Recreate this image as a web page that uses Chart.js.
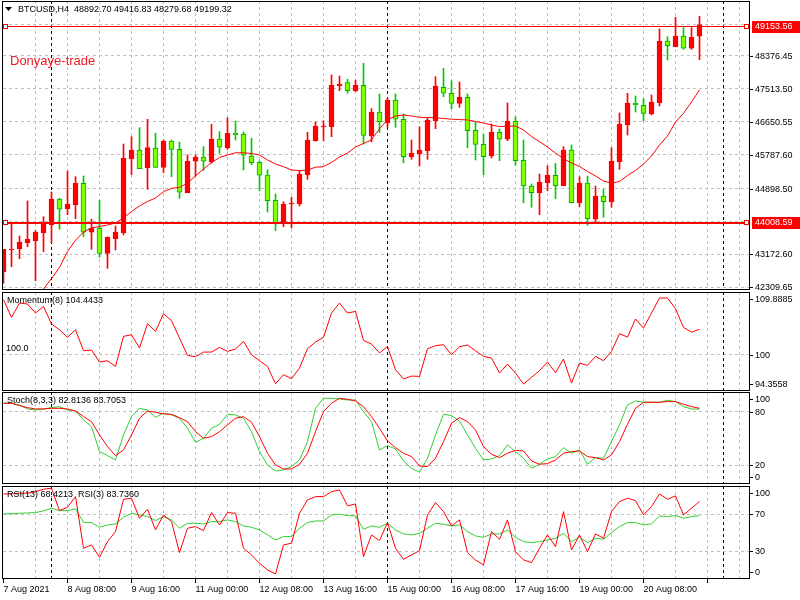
<!DOCTYPE html>
<html>
<head>
<meta charset="utf-8">
<title>BTCUSD,H4</title>
<script src="https://cdn.jsdelivr.net/npm/chart.js@4"></script>
<style>
  body { margin: 0; background: #fff; width: 800px; height: 600px; overflow: hidden; position: relative; }
  canvas { position: absolute; left: 0; }
</style>
</head>
<body>
<canvas id="rsi" width="800" height="115" style="top:485px;z-index:1"></canvas>
<canvas id="stoch" width="800" height="92" style="top:392px;z-index:2"></canvas>
<canvas id="mom" width="800" height="99" style="top:292px;z-index:3"></canvas>
<canvas id="main" width="800" height="291" style="top:0px;z-index:4"></canvas>

<script>
// BTCUSD H4 candles, 7 Aug 2021 00:00 onward
const open = [42719,43288,43322,43479,43532,43742,43951,44625,44371,44476,
  45037,43752,43857,43201,43584,43742,45682,45910,45446,45962,
  45456,46146,45928,44790,45614,45726,45595,46198,45962,46348,
  46322,45753,45588,45254,44591,44004,44494,44494,45254,46154,
  46513,46521,47596,47675,47465,47606,46277,46906,46626,47221,
  46715,45734,45805,45892,46678,47554,47397,47134,47292,46427,
  46059,45753,46374,46191,46663,45640,44966,44790,45053,45247,
  44974,45910,44528,45045,44093,44704,44554,45603,46573,47134,
  47082,46854,47150,48768,48619,48899,48577,48892.70];
const high = [43306,43970,43655,44573,43794,44161,44809,44644,45359,45210,
  45228,44093,44591,43629,43917,46067,46259,46495,46715,46348,
  46172,46172,46120,45779,45779,45997,46584,46390,46757,46670,
  46382,46217,45629,45393,44756,44554,44670,45367,46374,46644,
  46678,47877,47850,47764,47745,48183,46993,47378,47266,47378,
  46854,46172,46521,46749,47832,48052,47727,47693,47378,46652,
  46330,46592,46461,47142,46783,46172,45019,45281,45498,45561,
  45997,46041,45210,45228,44966,44880,45970,46880,47397,47326,
  47255,47352,49083,48881,49389,49117,49117,49416.83];
const low = [42415,42850,43060,43375,42483,43243,43479,43831,44214,44109,
  43637,43306,43097,42808,43288,43681,45262,45420,44880,45456,
  45315,45210,44644,44790,45228,45367,45561,45823,45928,46172,
  45386,45525,44843,44284,43794,43899,43865,44442,45142,46138,
  46154,46259,47465,47397,47439,46067,46120,46364,46505,46505,
  45577,45666,45490,45666,46468,47308,46993,47030,45970,45648,
  45262,45700,45629,46154,45509,44528,44408,44214,44843,44633,
  44974,44528,44423,43936,44022,44145,44408,45404,46303,46906,
  46678,46828,47064,48270,48619,48550,48550,48279.68];
const close = [43306,43314,43498,43569,43760,43970,44625,44355,44494,45037,
  43752,43857,43201,43629,43760,45692,45910,45420,45970,45456,
  46146,45928,44801,45614,45726,45614,46198,45981,46348,46311,
  45771,45577,45247,44581,44004,44494,44520,45281,46172,46539,
  46539,47614,47641,47465,47614,46295,46906,46644,47221,46715,
  45734,45823,45910,46697,47588,47397,47134,47292,46416,46059,
  45734,46374,46191,46670,45629,44966,44790,45063,45247,44974,
  45910,44528,45045,44109,44704,44554,45622,46592,47142,47098,
  46872,47169,48768,48645,48899,48577,48865,49199.32];

// moving average on price
const maValues = [null,null,null,null,41980,42265,42538,42829,43249,43542,
  43760,43865,43904,43944,43996,44127,44297,44442,44560,44651,
  44817,44906,44927,45045,45228,45412,45582,45713,45779,45837,
  45837,45818,45779,45648,45543,45472,45386,45367,45380,45459,
  45472,45582,45726,45831,45989,46081,46172,46470,46697,46802,
  46828,46802,46767,46762,46757,46736,46718,46708,46697,46657,
  46618,46566,46524,46532,46539,46434,46264,46128,45989,45831,
  45682,45569,45477,45346,45228,45097,45037,45084,45241,45373,
  45543,45753,46041,46277,46644,46872,47169,47483];

// Momentum(8)
const momValues = [109.65,106.55,109.06,108.89,107.31,108.48,105.38,104.38,103.04,104.38,
  100.70,100.82,98.71,98.94,97.95,103.21,103.51,101.17,105.44,104.09,
  107.19,105.96,102.92,99.88,99.65,100.46,100.46,101.28,100.58,100.99,
  102.34,100.00,98.94,97.95,94.91,96.49,95.78,97.66,101.05,102.22,
  103.04,107.31,109.06,107.31,107.60,102.51,101.87,100.29,101.46,97.36,
  95.73,96.25,96.19,101.05,101.58,101.75,100.00,101.40,101.69,100.70,
  99.70,99.41,96.78,98.36,96.78,94.85,96.02,97.19,98.71,96.84,
  99.24,95.02,98.53,98.12,99.70,98.94,100.58,103.68,103.10,106.26,
  104.68,107.31,109.94,109.94,108.07,104.79,103.97,104.44];

// Stoch(8,3,3) main / signal
const stochMain = [89.37,89.37,87.50,83.02,81.90,83.02,84.51,85.63,81.90,80.78,
  70.71,63.25,35.26,30.78,25.93,53.92,74.44,83.77,81.90,73.69,
  78.17,76.31,72.57,61.38,45.71,50.19,61.38,65.86,77.05,76.31,
  72.57,57.65,35.26,20.34,13.62,14.74,18.47,25.93,46.46,83.77,
  94.96,94.96,94.22,93.10,93.10,80.04,68.84,37.13,41.98,38.25,
  24.81,16.60,12.13,27.80,53.92,77.05,75.56,69.59,53.92,39.00,
  25.93,27.05,30.78,42.72,35.26,27.80,16.60,21.08,27.05,29.66,
  39.74,33.40,37.13,21.08,28.54,27.80,46.46,65.11,87.50,91.98,
  90.49,90.49,90.49,92.72,91.23,85.63,83.02,82.81];
const stochSignal = [89.37,89.37,86.75,84.51,83.02,83.02,83.77,83.77,83.02,80.78,
  74.44,68.84,53.92,40.86,30.78,37.13,53.92,72.57,80.78,79.29,
  77.43,77.05,73.32,68.84,57.65,50.19,52.05,57.65,65.11,72.57,
  74.44,68.10,52.05,33.40,20.34,15.86,15.86,21.08,33.40,57.65,
  80.04,89.37,94.96,93.84,91.98,85.63,74.44,61.38,47.20,39.74,
  33.40,29.66,19.22,18.47,27.80,46.46,66.98,73.32,68.84,59.51,
  40.86,32.28,28.54,33.40,36.75,36.01,24.81,21.08,21.83,25.93,
  33.40,35.26,36.01,29.66,28.54,25.93,31.53,46.46,65.86,83.77,
  90.49,90.49,90.49,91.23,91.23,88.25,85.63,83.71];

// RSI(13) and RSI(3)
const rsi13 = [70.32,70.68,71.05,71.41,71.77,73.57,76.45,73.93,73.93,75.73,
  61.32,60.95,55.91,58.43,59.51,66.72,71.05,69.24,67.44,63.12,
  67.44,63.84,54.83,60.23,60.23,59.51,62.04,62.04,63.84,62.04,
  57.35,55.91,53.03,47.62,42.22,45.82,45.82,54.83,60.95,62.76,
  62.76,69.24,69.96,68.52,68.16,53.75,57.35,55.91,60.23,53.03,
  48.70,47.62,49.42,54.83,60.23,59.15,57.35,58.43,51.23,46.54,
  45.10,48.70,48.70,53.03,45.10,40.41,39.33,40.41,42.22,44.02,
  49.42,40.41,45.10,39.33,44.02,42.94,50.14,56.63,60.95,60.95,
  58.43,59.51,68.16,67.44,68.52,65.64,67.44,68.42];
const rsi3 = [91.95,91.95,92.67,92.67,94.47,96.99,98.07,73.93,77.53,89.06,
  33.21,36.81,23.48,40.41,51.23,86.18,87.26,65.64,75.37,53.03,
  69.24,62.04,28.52,54.83,56.63,52.31,71.77,58.43,71.77,71.05,
  33.21,26.00,16.99,9.78,5.46,36.81,38.61,71.05,85.46,89.06,
  89.06,94.47,96.27,78.97,81.14,24.20,47.62,41.50,60.95,33.21,
  21.32,26.00,30.68,69.24,82.58,72.85,57.35,63.84,28.52,20.60,
  15.19,51.23,42.94,63.84,29.60,20.60,17.71,33.21,47.62,35.01,
  72.85,31.41,47.62,29.60,48.70,44.02,72.85,83.66,87.26,84.74,
  69.24,78.25,91.95,86.18,89.78,69.24,76.45,83.74];

// time axis: one label every 8 bars, week separators at bar index
const xLabels = ["7 Aug 2021","8 Aug 08:00","9 Aug 16:00","11 Aug 00:00","12 Aug 08:00",
  "13 Aug 16:00","15 Aug 00:00","16 Aug 08:00","17 Aug 16:00","19 Aug 00:00","20 Aug 08:00"];
const weekStarts = [6, 48, 90];

// price axis
const priceTicks = [42309.65,43172.60,44035.55,44898.50,45787.60,46650.55,47513.50,48376.45,49213.25];
const priceLabels = ["42309.65","43172.60","","44898.50","45787.60","46650.55","47513.50","48376.45",""];
const hLevels = [49153.56, 44008.59];

const momTicks = [94.3558, 100, 109.8885];
const momLabels = ["94.3558", "100", "109.8885"];
const stochTicks = [0, 20, 80, 100];
const stochLabels = ["0", "20", "80", "100"];
const rsiTicks = [0, 30, 70, 100];
const rsiLabels = ["0", "30", "70", "100"];

const FONT = '9px "Liberation Sans"';
const GRID = '#c0c0c0';
const RED = '#ff0000';
const GREEN = '#33cc33';
const X_MIN = -0.0625, X_MAX = 93.1875;

const gridSteps = [];
for (let v = 0; v <= 92; v += 4) gridSteps.push(v);

const mt4 = {
  id: 'mt4',
  beforeDatasetsDraw(chart) {
    const { ctx, chartArea: a } = chart;
    const x = chart.scales.x;
    ctx.save();
    ctx.strokeStyle = '#000';
    ctx.lineWidth = 1;
    ctx.setLineDash([3, 3]);
    weekStarts.forEach(w => {
      const px = Math.floor(x.getPixelForValue(w)) + 0.5;
      if (px < a.left || px > a.right) return;
      ctx.beginPath();
      ctx.moveTo(px, a.top);
      ctx.lineTo(px, a.bottom);
      ctx.stroke();
    });
    ctx.restore();
  },
  afterDraw(chart, args, o) {
    const { ctx, chartArea: a } = chart;
    const y = chart.scales.y;
    ctx.save();
    ctx.font = FONT;
    ctx.textBaseline = 'middle';

    // frame
    ctx.strokeStyle = '#000';
    ctx.lineWidth = 1;
    ctx.strokeRect(a.left - 0.5, a.top + 0.5, a.right - a.left + 1, a.bottom - a.top - 1);

    // right scale labels
    ctx.fillStyle = '#000';
    ctx.textAlign = 'left';
    const tickVals = o.ticks, tickText = o.labels;
    for (let i = 0; i < tickVals.length; i++) {
      const label = String(tickText[i]);
      if (label.length === 0) continue;
      let py = y.getPixelForValue(tickVals[i]);
      if (o.clamp) py = Math.min(Math.max(py, a.top + 7), a.bottom - 7);
      py = Math.round(py) + 0.5;
      ctx.beginPath();
      ctx.moveTo(a.right + 1, py);
      ctx.lineTo(a.right + 4, py);
      ctx.stroke();
      ctx.fillText(label, a.right + 6, py);
    }

    // horizontal price levels
    (o.hlines || []).forEach((v, i) => {
      const w = o.hlineWidths[i];
      const py = Math.round(y.getPixelForValue(v)) + (w === 1 ? 0.5 : 0);
      ctx.strokeStyle = RED;
      ctx.lineWidth = w;
      ctx.beginPath();
      ctx.moveTo(a.left, py);
      ctx.lineTo(a.right, py);
      ctx.stroke();
      ctx.lineWidth = 1;
      const sy = Math.round(py) - 2.5;
      ctx.fillStyle = '#fff';
      ctx.fillRect(a.left + 0.5, sy, 4, 4);
      ctx.strokeRect(a.left + 0.5, sy, 4, 4);
      ctx.fillRect(a.right - 4.5, sy, 4, 4);
      ctx.strokeRect(a.right - 4.5, sy, 4, 4);
      ctx.fillStyle = RED;
      ctx.fillRect(a.right + 3, Math.round(py) - 6, 800 - a.right - 3, 12);
      ctx.fillStyle = '#fff';
      ctx.fillText(v.toFixed(2), a.right + 6, Math.round(py));
    });

    // panel title
    ctx.fillStyle = '#000';
    let tx = a.left + 4;
    if (o.arrow) {
      ctx.beginPath();
      ctx.moveTo(a.left + 2, a.top + 6);
      ctx.lineTo(a.left + 9, a.top + 6);
      ctx.lineTo(a.left + 5.5, a.top + 10);
      ctx.closePath();
      ctx.fill();
      tx = a.left + 15;
    }
    ctx.fillText(o.title, tx, a.top + 8.5);

    (o.notes || []).forEach(n => {
      ctx.fillStyle = n.color;
      ctx.font = n.font;
      const py = n.value !== undefined ? y.getPixelForValue(n.value) - 6 : a.top + n.dy;
      ctx.fillText(n.text, a.left + n.dx, py);
    });
    ctx.restore();
  }
};
Chart.register(mt4);

function xScale(showLabels) {
  return {
    type: 'linear', min: X_MIN, max: X_MAX, offset: false,
    afterBuildTicks: s => { s.ticks = gridSteps.map(v => ({ value: v })); },
    afterFit: s => { s.height = showLabels ? 21 : 0; },
    grid: {
      offset: false,
      color: c => (c.tick && c.tick.value === 0) ? 'rgba(0,0,0,0)' : GRID,
      drawTicks: showLabels, tickLength: 4, tickBorderDash: [],
      tickColor: c => (c.tick && c.tick.value % 8 === 0) ? '#000' : 'rgba(0,0,0,0)'
    },
    border: { display: false, dash: [3, 3] },
    ticks: {
      display: showLabels, autoSkip: false, maxRotation: 0, minRotation: 0,
      align: 'start', padding: 1, color: '#000',
      font: { family: 'Liberation Sans', size: 9 },
      callback: v => v % 8 === 0 ? (xLabels[v / 8] || '') : ''
    }
  };
}

function yScale(min, max, ticks, gridVals) {
  return {
    position: 'right', min: min, max: max,
    afterBuildTicks: s => { s.ticks = ticks.map(v => ({ value: v })); },
    afterFit: s => { s.width = 51; },
    grid: {
      color: c => (c.tick && gridVals.includes(c.tick.value)) ? GRID : 'rgba(0,0,0,0)',
      drawTicks: false
    },
    border: { display: false, dash: [3, 3] },
    ticks: { display: false }
  };
}

function series(values) {
  return values.map((v, i) => ({ x: i, y: v }));
}

function lineSet(values, color) {
  return {
    type: 'line', data: series(values), borderColor: color, borderWidth: 1,
    pointRadius: 0, tension: 0, fill: false
  };
}

function panelLayout(top, bottom) {
  return { autoPadding: false, padding: { left: 3, top: top, bottom: bottom, right: 0 } };
}

const baseOpts = {
  responsive: false,
  animation: false,
  events: []
};

// main price panel
const up = close.map((c, i) => c >= open[i]);
new Chart(document.getElementById('main'), {
  type: 'line',
  data: {
    datasets: [
      Object.assign(lineSet(maValues, RED), { order: 0 }),
      {
        type: 'bar', order: 1, grouped: false,
        data: open.map((o, i) => ({ x: i, y: [o, close[i]] })),
        backgroundColor: up.map(u => u ? RED : '#7fff00'),
        borderColor: up.map(u => u ? RED : '#00b000'),
        borderWidth: 1, borderSkipped: false, barThickness: 5, minBarLength: 1
      },
      {
        type: 'bar', order: 2, grouped: false,
        data: low.map((l, i) => ({ x: i, y: [l, high[i]] })),
        backgroundColor: up.map(u => u ? RED : '#00cc00'),
        borderWidth: 0, barThickness: 1
      }
    ]
  },
  options: Object.assign({}, baseOpts, {
    layout: panelLayout(1, 1),
    scales: {
      x: xScale(false),
      y: yScale(42238.9, 49816.5, priceTicks, priceTicks)
    },
    plugins: {
      legend: { display: false }, tooltip: { enabled: false },
      mt4: {
        title: 'BTCUSD,H4  48892.70 49416.83 48279.68 49199.32', arrow: true,
        ticks: priceTicks, labels: priceLabels, clamp: false,
        hlines: hLevels, hlineWidths: [1, 2],
        notes: [{ text: 'Donyaye-trade', dx: 7, dy: 60, color: '#ee1c25', font: '13px "Liberation Sans"' }]
      }
    }
  })
});

// momentum panel
new Chart(document.getElementById('mom'), {
  type: 'line',
  data: { datasets: [lineSet(momValues, RED)] },
  options: Object.assign({}, baseOpts, {
    layout: panelLayout(0, 0),
    scales: { x: xScale(false), y: yScale(93.63, 111.0, momTicks, [100]) },
    plugins: {
      legend: { display: false }, tooltip: { enabled: false },
      mt4: {
        title: 'Momentum(8) 104.4433', ticks: momTicks, labels: momLabels, clamp: true,
        notes: [{ text: '100.0', dx: 3, value: 100, color: '#000', font: FONT }]
      }
    }
  })
});

// stochastic panel
new Chart(document.getElementById('stoch'), {
  type: 'line',
  data: { datasets: [lineSet(stochSignal, RED), lineSet(stochMain, GREEN)] },
  options: Object.assign({}, baseOpts, {
    layout: panelLayout(0, 0),
    scales: { x: xScale(false), y: yScale(-1, 102, stochTicks, [20, 80]) },
    plugins: {
      legend: { display: false }, tooltip: { enabled: false },
      mt4: { title: 'Stoch(8,3,3) 82.8136 83.7053', ticks: stochTicks, labels: stochLabels, clamp: true }
    }
  })
});

// RSI panel with time axis
new Chart(document.getElementById('rsi'), {
  type: 'line',
  data: { datasets: [lineSet(rsi3, RED), lineSet(rsi13, GREEN)] },
  options: Object.assign({}, baseOpts, {
    layout: panelLayout(1, 0),
    scales: { x: xScale(true), y: yScale(0, 100.5, rsiTicks, [30, 70]) },
    plugins: {
      legend: { display: false }, tooltip: { enabled: false },
      mt4: { title: 'RSI(13) 68.4213  RSI(3) 83.7360', ticks: rsiTicks, labels: rsiLabels, clamp: true }
    }
  })
});
</script>
</body>
</html>
